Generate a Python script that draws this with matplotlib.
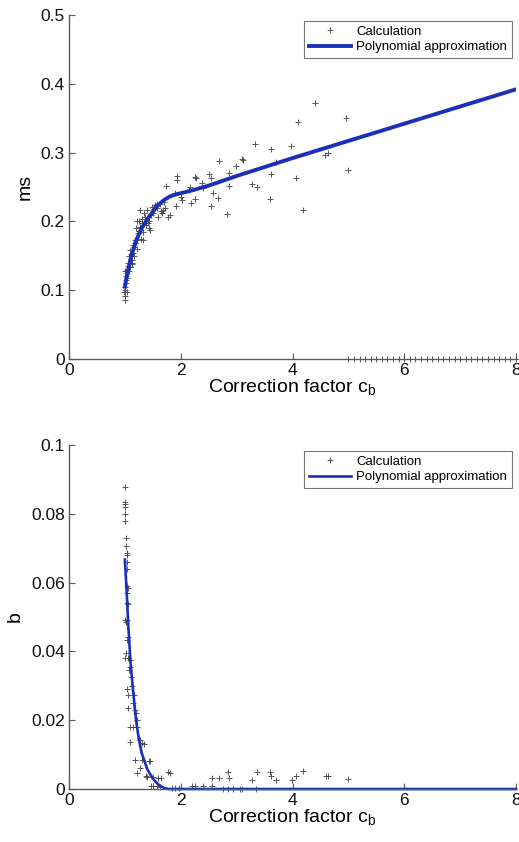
import matplotlib
matplotlib.use("Agg")
import matplotlib.pyplot as plt

plt.rcParams['font.family'] = ['Liberation Sans', 'DejaVu Sans']

# ---------------- top panel data (ms) ----------------
ms_calc_x = [1.00, 0.99, 1.01, 1.00, 1.02, 1.03, 1.00, 1.02, 1.04, 1.06, 1.03, 1.05,
             1.09, 1.08, 1.12, 1.10, 1.15, 1.14, 1.16, 1.18, 1.21, 1.20, 1.24, 1.22,
             1.27, 1.26, 1.30, 1.28, 1.32, 1.36, 1.35, 1.39, 1.42, 1.43, 1.45, 1.44,
             1.48, 1.50, 1.54, 1.57, 1.60, 1.62, 1.66, 1.69, 1.72, 1.74, 1.78, 1.80,
             1.21, 1.27, 1.16, 1.12, 1.33, 1.38, 1.47, 1.55, 1.64, 1.70,
             1.01, 1.02, 1.04, 1.07, 1.11, 1.13, 1.19, 1.25, 1.31, 1.41, 1.52, 1.58,
             1.90, 1.91, 1.93, 1.94, 2.00, 2.02, 2.14, 2.16, 2.18, 2.26, 2.28, 2.26,
             2.38, 2.40, 2.51, 2.54, 2.57, 2.55, 2.69, 2.67, 2.87, 2.87, 2.83, 2.99,
             3.09, 3.11, 3.27, 3.37, 3.33, 3.62, 3.62, 3.60, 3.71, 3.97, 4.06, 4.10,
             4.18, 4.40, 4.59, 4.63, 4.95, 5.00,
             5.0, 5.1, 5.2, 5.3, 5.4, 5.5, 5.6, 5.7, 5.8, 5.9, 6.0, 6.1, 6.2, 6.3,
             6.4, 6.5, 6.6, 6.7, 6.8, 6.9, 7.0, 7.1, 7.2, 7.3, 7.4, 7.5, 7.6, 7.7,
             7.8, 7.9, 8.0]
ms_calc_y = [0.086, 0.097, 0.100, 0.105, 0.110, 0.098, 0.128, 0.120, 0.130, 0.135, 0.125, 0.140,
             0.134, 0.150, 0.144, 0.158, 0.154, 0.165, 0.163, 0.173, 0.173, 0.190, 0.183, 0.160,
             0.192, 0.200, 0.197, 0.175, 0.173, 0.207, 0.212, 0.217, 0.207, 0.200, 0.188, 0.190,
             0.221, 0.212, 0.224, 0.219, 0.207, 0.225, 0.212, 0.217, 0.220, 0.252, 0.207, 0.210,
             0.200, 0.217, 0.150, 0.138, 0.185, 0.195, 0.210, 0.222, 0.215, 0.228,
             0.092, 0.115, 0.118, 0.128, 0.152, 0.140, 0.168, 0.186, 0.203, 0.198, 0.218, 0.226,
             0.242, 0.222, 0.260, 0.266, 0.236, 0.231, 0.246, 0.250, 0.227, 0.265, 0.263, 0.232,
             0.256, 0.248, 0.269, 0.263, 0.241, 0.223, 0.288, 0.234, 0.270, 0.251, 0.211, 0.281,
             0.290, 0.289, 0.254, 0.250, 0.313, 0.305, 0.269, 0.232, 0.286, 0.309, 0.263, 0.344,
             0.216, 0.372, 0.297, 0.299, 0.350, 0.274,
             0, 0, 0, 0, 0, 0, 0, 0, 0, 0, 0, 0, 0, 0,
             0, 0, 0, 0, 0, 0, 0, 0, 0, 0, 0, 0, 0, 0,
             0, 0, 0]
ms_poly_x = [1.00, 1.05, 1.10, 1.20, 1.30, 1.40, 1.50, 1.60, 1.70, 1.80, 1.90, 2.00,
             2.20, 2.50, 3.00, 4.00, 5.00, 6.00, 7.00, 8.00]
ms_poly_y = [0.105, 0.127, 0.145, 0.172, 0.190, 0.203, 0.214, 0.224, 0.231, 0.236, 0.239, 0.241,
             0.245, 0.252, 0.266, 0.292, 0.317, 0.342, 0.367, 0.392]

# ---------------- bottom panel data (b) ----------------
b_calc_x = [1.00, 1.00, 1.00, 1.01, 1.01, 1.01, 1.02, 1.02, 1.03, 1.03, 1.03, 1.03,
            1.03, 1.05, 1.04, 1.03, 1.05, 1.04, 1.00, 1.02, 1.05, 1.03, 1.02, 1.05,
            1.00, 1.09, 1.10, 1.08, 1.11, 1.03, 1.06, 1.12, 1.16, 1.14, 1.06, 1.18,
            1.20, 1.10, 1.15, 1.21, 1.22, 1.09, 1.27, 1.30, 1.34, 1.18, 1.30, 1.44,
            1.45, 1.27, 1.22, 1.38, 1.40, 1.51, 1.60, 1.64, 1.46, 1.51, 1.57, 1.63,
            1.78, 1.81, 1.84, 1.90, 1.96, 2.20, 2.26, 2.39, 2.56, 2.56, 2.69, 2.84,
            2.87, 2.75, 2.85, 2.94, 3.06, 3.09, 3.27, 3.37, 3.35, 3.60, 3.62, 3.71,
            3.99, 4.07, 4.18, 4.60, 4.63, 5.00]
b_calc_y = [0.0879, 0.0835, 0.0829, 0.0820, 0.0800, 0.0780, 0.0730, 0.0705, 0.0687, 0.0680, 0.0660, 0.0640,
            0.0590, 0.0584, 0.0570, 0.0540, 0.0538, 0.0490, 0.0490, 0.0485, 0.0443, 0.0434, 0.0395, 0.0380,
            0.0380, 0.0375, 0.0356, 0.0347, 0.0327, 0.0290, 0.0274, 0.0298, 0.0274, 0.0250, 0.0235, 0.0230,
            0.0220, 0.0180, 0.0180, 0.0200, 0.0180, 0.0136, 0.0143, 0.0134, 0.0130, 0.0085, 0.0085, 0.0080,
            0.0082, 0.0060, 0.0046, 0.0037, 0.0036, 0.0035, 0.0032, 0.0032, 0.0010, 0.0009, 0.0010, 0.0006,
            0.0048, 0.0047, 0.0004, 0.0004, 0.0004, 0.0010, 0.0010, 0.0010, 0.0008, 0.0032, 0.0032, 0.0048,
            0.0032, 0.0001, 0.0001, 0.0001, 0.0001, 0.0001, 0.0025, 0.0048, 0.0001, 0.0048, 0.0039, 0.0025,
            0.0025, 0.0039, 0.0053, 0.0039, 0.0039, 0.0030]
b_poly_x = [1.00, 1.03, 1.06, 1.10, 1.15, 1.20, 1.25, 1.30, 1.40, 1.50, 1.60, 1.70, 1.78, 8.00]
b_poly_y = [0.0667, 0.0580, 0.0480, 0.0370, 0.0280, 0.0200, 0.0145, 0.0105, 0.0058, 0.0030, 0.0013, 0.0003, 0.0, 0.0]

x_ticks = [0, 2, 4, 6, 8]
ms_ticks = [0, 0.1, 0.2, 0.3, 0.4, 0.5]
ms_tick_labels = ['0', '0.1', '0.2', '0.3', '0.4', '0.5']
b_ticks = [0, 0.02, 0.04, 0.06, 0.08, 0.1]
b_tick_labels = ['0', '0.02', '0.04', '0.06', '0.08', '0.1']

fig = plt.figure(figsize=(5.19, 8.42), dpi=100)
W, H = 519, 842
ax1 = fig.add_axes([69 / W, 1 - 359 / H, 447 / W, 344 / H])
ax2 = fig.add_axes([69 / W, 1 - 789 / H, 447 / W, 344 / H])

spine_col = '#5a5a5a'
blue = '#1a30b8'

def style(ax, yticks, ylabels, ylabel):
    for s in ['top', 'right']:
        ax.spines[s].set_visible(False)
    for s in ['left', 'bottom']:
        ax.spines[s].set_color(spine_col)
        ax.spines[s].set_linewidth(1.0)
    ax.set_xlim(0, 8)
    ax.set_xticks(x_ticks)
    ax.set_yticks(yticks)
    ax.set_yticklabels(ylabels)
    ax.set_ylim(yticks[0], yticks[-1])
    ax.tick_params(direction='in', length=4, width=0.8, color=spine_col,
                   labelsize=12.5, labelcolor='#111111', pad=3)
    ax.set_xlabel('Correction factor c$_\\mathregular{b}$', fontsize=14, labelpad=0)
    ax.set_ylabel(ylabel, fontsize=14, labelpad=5)

mk = dict(marker='+', linestyle='none', markersize=5, markeredgewidth=0.7,
          color='#3a3a3a', alpha=0.85)

ax1.plot(ms_calc_x, ms_calc_y, label='Calculation', clip_on=False, **mk)
ax1.plot(ms_poly_x, ms_poly_y, color=blue, lw=2.8, label='Polynomial approximation')
style(ax1, ms_ticks, ms_tick_labels, 'ms')
leg1 = ax1.legend(loc='upper right', bbox_to_anchor=(0.991, 0.983), fontsize=9.5,
                  fancybox=False, edgecolor='#777777', borderaxespad=0,
                  handlelength=3.2, handletextpad=0.4, borderpad=0.35, labelspacing=0.25,
                  framealpha=1)
leg1.get_frame().set_linewidth(0.8)

ax2.plot(b_calc_x, b_calc_y, label='Calculation', clip_on=False, **mk)
ax2.plot(b_poly_x, b_poly_y, color=blue, lw=1.9, label='Polynomial approximation', clip_on=False)
style(ax2, b_ticks, b_tick_labels, 'b')
leg2 = ax2.legend(loc='upper right', bbox_to_anchor=(0.991, 0.983), fontsize=9.5,
                  fancybox=False, edgecolor='#777777', borderaxespad=0,
                  handlelength=3.2, handletextpad=0.4, borderpad=0.35, labelspacing=0.25,
                  framealpha=1)
leg2.get_frame().set_linewidth(0.8)

fig.savefig('out.png', dpi=100)
